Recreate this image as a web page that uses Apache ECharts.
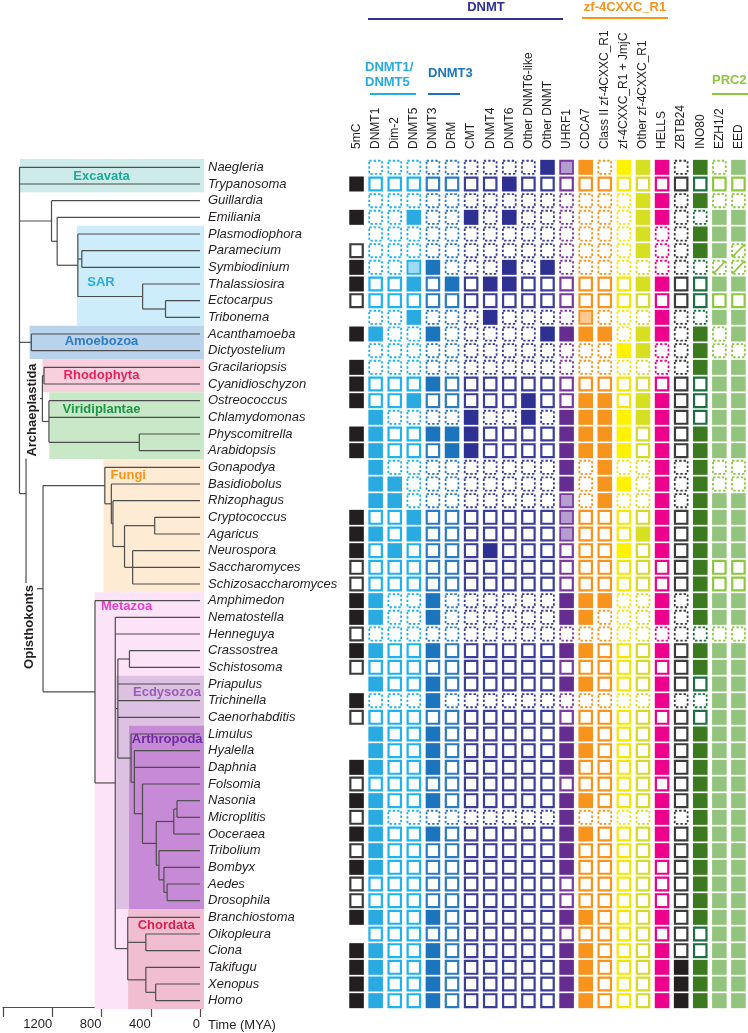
<!DOCTYPE html>
<html><head><meta charset="utf-8">
<script src="https://cdn.jsdelivr.net/npm/echarts@6/dist/echarts.min.js"></script>
<style>html,body{margin:0;padding:0;background:#fff}#c{width:748px;height:1033px}</style>
</head><body><div id="c"></div>
<script>
// ---------------- DATA ----------------
const species = ['Naegleria','Trypanosoma','Guillardia','Emiliania','Plasmodiophora','Paramecium','Symbiodinium','Thalassiosira','Ectocarpus','Tribonema','Acanthamoeba','Dictyostelium','Gracilariopsis','Cyanidioschyzon','Ostreococcus','Chlamydomonas','Physcomitrella','Arabidopsis','Gonapodya','Basidiobolus','Rhizophagus','Cryptococcus','Agaricus','Neurospora','Saccharomyces','Schizosaccharomyces','Amphimedon','Nematostella','Henneguya','Crassostrea','Schistosoma','Priapulus','Trichinella','Caenorhabditis','Limulus','Hyalella','Daphnia','Folsomia','Nasonia','Microplitis','Ooceraea','Tribolium','Bombyx','Aedes','Drosophila','Branchiostoma','Oikopleura','Ciona','Takifugu','Xenopus','Homo'];

const columns = ['5mC','DNMT1','Dim-2','DNMT5','DNMT3','DRM','CMT','DNMT4','DNMT6','Other DNMT6-like','Other DNMT','UHRF1','CDCA7','Class II zf-4CXXC_R1','zf-4CXXC_R1 + JmjC','Other zf-4CXXC_R1','HELLS','ZBTB24','INO80','EZH1/2','EED'];

// F = present (filled), L = partial (light fill), O = absent (open box),
// D = absent / incomplete data (dashed), X = slashed, . = no data
const presence = [
  '.DDDDDDDDDFLFDFFFDFDF','FOOOOOOOFOOOOOOOOOOOO','.DDDDDDDDDDDDDDFFDFDD','FDDFDDFDFDDDDDDFFDDFF',
  '.DDDDDDDDDDDDDDFDDFFF','ODDDDDDDDDDDDDDFDDFFX','FDDLFDDDFDFDDDDDDDDXX','FOOFOFOFFOOOOOOFFOOFF',
  'OOOOOOOOOOOOOOOOOOOOO','.DDFDDDFDDDDLDDDFDDFF','FFDDFDDDDDFFFFDFFDFDF','.DDDDDDDDDDDDDFFDDFDD',
  'FDDDDDDDDDDDDDDDDDFFF','FOOOFOOOOOOOOOOOOOOFF','FOOFOOOOOFOOFFOFFOOFF','.FDDDDFDDFDFFFFFFOOFF',
  'FFOOFFFOOOOFFFFOFOFFF','FFOOOFFOOOOFFFFOFOFFF','.FDDDDDDDDDFDFDDFDFDD','.FFDDDDDDDDFDFFDFDFDD',
  '.FFDDDDDDDDLDFDDFDFFF','FOOFOOOOOOOLOOOOFOFFF','FFOFOOOOOOOLOOOFFOFFF','FOFOOOOFOOOOOOFOFOFFF',
  'OOOOOOOOOOOOOOOOOOFOO','OOOOOOOOOOOOOOOOOOFOO','FFDDFDDDDDDFFFDDFDFFF','FFDDFDDDDDDFFDDDFDFFF',
  'ODDDDDDDDDDDDDDDDDDDD','FFOOFOOOOOOFFOOOFOFFF','OOOOOOOOOOOOOOOOOOFFF','.FOOFOOOOOOFFOOOFOOFF',
  'FDDDFDDDDDDDDDDDFDDFF','OOOOOOOOOOOOOOOOOOOFF','.FOOFOOOOOOFFOOOFOFFF','.FOOFOOOOOOFFOOOFOFFF',
  'FFOOFOOOOOOFOOOOFOFFF','OOOOOOOOOOOOOOOOOOFFF','FFOOFOOOOOOFFOOOFOFFF','OFDDDDDDDDDFDDDDFDFFF',
  'FFOOFOOOOOOFFOOOFOFFF','OFOOOOOOOOOFOOOOFOFFF','FFOOOOOOOOOFOOOOOOFFF','OOOOOOOOOOOOOOOOOOFFF',
  'OOOOOOOOOOOOOOOOOOFFF','FFOOFOOOOOOFFOOOFOFFF','.OOOOOOOOOOOOOOOOOOFF','FFOOFOOOOOOFFOOOFOOFF',
  'FFOOFOOOOOOFFOOOFFFFF','FFOOFOOOOOOFFOOOFFFFF','FFOOFOOOOOOFFOOOFFFFF'
];

// Tree: [node age (MYA), children...]; leaves are species names
const tree = [1466, 'Naegleria', 'Trypanosoma',
  [1206, 'Guillardia', [1160, 'Emiliania', [992, 'Plasmodiophora', [960, 'Paramecium', 'Symbiodinium'], [466, 'Thalassiosira', [280, 'Ectocarpus', 'Tribonema']]]]],
  [1370, 'Acanthamoeba', 'Dictyostelium'],
  [1413,
    [1280, [1267, 'Gracilariopsis', 'Cyanidioschyzon'], [1227, 'Ostreococcus', 'Chlamydomonas', [493, 'Physcomitrella', 'Arabidopsis']]],
    [1275,
      [773, 'Gonapodya', [720, 'Basidiobolus', [707, 'Rhizophagus', [613, [368, 'Cryptococcus', 'Agaricus'], [547, 'Neurospora', 'Saccharomyces', 'Schizosaccharomyces']]]]],
      [853, 'Amphimedon', [688, 'Nematostella', 'Henneguya',
        [667, [573, 'Crassostrea', 'Schistosoma'], 'Priapulus', 'Trichinella', 'Caenorhabditis',
          [560, 'Limulus', [533, 'Hyalella', 'Daphnia', [467, 'Folsomia', [355, [213, [187, 'Nasonia', 'Microplitis'], 'Ooceraea'], [333, 'Tribolium', [293, 'Bombyx', [267, 'Aedes', 'Drosophila']]]]]]]],
        [587, 'Branchiostoma', [440, 'Oikopleura', 'Ciona'], [440, 'Takifugu', [360, 'Xenopus', 'Homo']]]]]]]];

// Clades: name, first species, last species, crown age of shaded box (MYA)
const cladeNames = ['Excavata','SAR','Amoebozoa','Rhodophyta','Viridiplantae','Fungi','Metazoa','Ecdysozoa','Arthropoda','Chordata'];
const cladeFirst = ['Naegleria','Plasmodiophora','Acanthamoeba','Gracilariopsis','Ostreococcus','Gonapodya','Amphimedon','Priapulus','Limulus','Branchiostoma'];
const cladeLast  = ['Trypanosoma','Tribonema','Dictyostelium','Cyanidioschyzon','Arabidopsis','Schizosaccharomyces','Homo','Drosophila','Drosophila','Homo'];
const cladeAge   = [1464, 1000, 1384, 1280, 1224, 784, 856, 680, 576, 584];

const timeTicks = [0, 400, 800, 1200, 1600];

// ---------------- STYLE / LAYOUT ----------------
const FF = '"Liberation Sans", Arial, Helvetica, sans-serif';
const cladeBg  = ['#cdebe8','#ccedf9','#b9d3ec','#f8d0dd','#c9e8c7','#fdebd3','#fde3f7','#dcc1e3','#c78ad7','#f1bed1'];
const cladeTxt = ['#1fa998','#29abe2','#2f7cc1','#e4245e','#1b9548','#f7941d','#e03fcf','#9a5db5','#6e2b9c','#d71f4f'];
const cladeLabelAt = [[800,0.52,'center'],[804,2.92,'center'],[800,0.42,'center'],[800,0.5,'center'],[800,0.5,'center'],
                      [726,0.5,'left'],[805,0.36,'left'],[544,0.5,'left'],[554,0.35,'left'],[506,0.5,'left']];
const BOX_RIGHT_AGE = -32;

const FILL = ['#231f20','#29abe2','#29abe2','#29abe2','#1c75bc','#1c75bc','#2e3192','#2e3192','#2e3192','#2e3192','#2e3192','#662d91','#f7941d','#f7941d','#fff200','#d7df23','#ec008c','#231f20','#3b7a1f','#93c47d','#93c47d'];
const STROKE = ['#3b3b3b','#1fb3ee','#1fb3ee','#1fb3ee','#2a7bc1','#2a7bc1','#3a3e9a','#3a3e9a','#3a3e9a','#3a3e9a','#3a3e9a','#7a3a9e','#f7941d','#f7941d','#f5e800','#d2da2a','#ec008c','#3b3b3b','#1c6e45','#8dc63f','#8dc63f'];
const LIGHT = {3:'#9fd9f4', 11:'#b49dcf', 12:'#fcc98e'};

// ---------------- BUILD ----------------
const segs = [];
function layout(node) {
  if (typeof node === 'string') return {y: species.indexOf(node), t: 0};
  const age = node[0];
  const kids = node.slice(1).map(layout);
  const y0 = kids[0].y, y1 = kids[kids.length - 1].y;
  kids.forEach(k => segs.push([age, k.y, k.t, k.y]));
  segs.push([age, y0, age, y1]);
  return {y: (y0 + y1) / 2, t: age};
}
layout(tree);

const cells = [];
presence.forEach((row, r) => row.split('').forEach((code, c) => { if (code !== '.') cells.push([c, r, code]); }));

const boxData = cladeNames.map((n, i) => [cladeAge[i], species.indexOf(cladeFirst[i]) - 0.5, BOX_RIGHT_AGE, species.indexOf(cladeLast[i]) + 0.5]);

function renderSeg(params, api) {
  const a = api.coord([api.value(0), api.value(1)]);
  const b = api.coord([api.value(2), api.value(3)]);
  return {type: 'line', shape: {x1: a[0], y1: a[1], x2: b[0], y2: b[1]}, style: {stroke: '#4d4d4d', lineWidth: 1.2}};
}
function renderBox(params, api) {
  const a = api.coord([api.value(0), api.value(1)]);
  const b = api.coord([api.value(2), api.value(3)]);
  return {type: 'rect', shape: {x: a[0], y: a[1], width: b[0] - a[0], height: b[1] - a[1]}, style: {fill: cladeBg[params.dataIndex]}};
}
function renderCladeLabel(params, api) {
  const i = params.dataIndex, L = cladeLabelAt[i];
  const p = api.coord([L[0], species.indexOf(cladeFirst[i]) + L[1]]);
  return {type: 'text', x: p[0], y: p[1], style: {text: cladeNames[i], fill: cladeTxt[i], font: 'bold 13px ' + FF, align: L[2], verticalAlign: 'middle'}};
}
function renderCell(params, api) {
  const d = cells[params.dataIndex];
  const c = d[0], code = d[2];
  const p = api.coord([c, d[1]]);
  const W = 14.6, H = 15;
  const x = p[0] - W / 2, y = p[1] - H / 2;
  const stroke = STROKE[c];
  if (code === 'F') return {type: 'rect', shape: {x, y, width: W, height: H}, style: {fill: FILL[c]}};
  if (code === 'O') return {type: 'rect', shape: {x: x + 1.1, y: y + 1.1, width: W - 2.2, height: H - 2.2}, style: {fill: '#fff', stroke, lineWidth: 2.2}};
  if (code === 'L') return {type: 'rect', shape: {x: x + 0.9, y: y + 0.9, width: W - 1.8, height: H - 1.8}, style: {fill: LIGHT[c], stroke, lineWidth: 1.8}};
  const dashed = {type: 'rect', shape: {x: x + 0.9, y: y + 0.9, width: W - 1.8, height: H - 1.8}, style: {fill: 'none', stroke, lineWidth: 1.8, lineDash: [2.4, 2]}};
  if (code === 'X') return {type: 'group', children: [dashed, {type: 'line', shape: {x1: x + 1, y1: y + H - 1, x2: x + W - 1, y2: y + 1}, style: {stroke, lineWidth: 1.6}}]};
  return dashed;
}

function gtext(text, x, y, color, align, rot, font, bg) {
  const st = {text, fill: color, font: font || ('bold 13px ' + FF), align: align || 'center', verticalAlign: 'middle'};
  if (bg) { st.backgroundColor = '#fff'; st.padding = [1, 2]; }
  return {type: 'text', x, y, z: 10, rotation: rot || 0, style: st};
}
function gline(x1, x2, y, color) {
  return {type: 'line', z: 10, shape: {x1, y1: y, x2, y2: y}, style: {stroke: color, lineWidth: 2}};
}

const chart = echarts.init(document.getElementById('c'), null, {renderer: 'canvas'});
chart.setOption({
  animation: false,
  backgroundColor: '#fff',
  grid: [
    {left: 0, top: 159, width: 200, height: 850},
    {left: 347, top: 159, width: 403, height: 850}
  ],
  xAxis: [
    {gridIndex: 0, type: 'value', inverse: true, min: 0, max: 1600, interval: 400, offset: -2,
     axisLine: {show: true, onZero: false, lineStyle: {color: '#4d4d4d', width: 1.2}},
     axisTick: {show: true, length: 10, lineStyle: {color: '#4d4d4d', width: 1.2}},
     axisLabel: {show: true, margin: 11, fontSize: 13, color: '#231f20', fontFamily: FF, align: 'right',
                 formatter: v => (timeTicks.indexOf(v) >= 0 && v < 1600) ? String(v) : ''},
     splitLine: {show: false}},
    {gridIndex: 1, type: 'category', data: columns, position: 'top',
     axisLine: {show: false}, axisTick: {show: false}, splitLine: {show: false}, axisLabel: {show: false}}
  ],
  yAxis: [
    {gridIndex: 0, type: 'category', data: species, inverse: true, position: 'right',
     axisLine: {show: false}, axisTick: {show: false}, splitLine: {show: false},
     axisLabel: {interval: 0, margin: 8, fontSize: 13, fontStyle: 'italic', color: '#231f20', fontFamily: FF, align: 'left'}},
    {gridIndex: 0, type: 'value', min: -0.5, max: 50.5, inverse: true, show: false},
    {gridIndex: 1, type: 'category', data: species, inverse: true, show: false}
  ],
  series: [
    {type: 'custom', xAxisIndex: 0, yAxisIndex: 1, z: 1, renderItem: renderBox, data: boxData, encode: {x: [0, 2], y: [1, 3]}, silent: true},
    {type: 'custom', xAxisIndex: 0, yAxisIndex: 1, z: 2, renderItem: renderSeg, data: segs, encode: {x: [0, 2], y: [1, 3]}, silent: true},
    {type: 'custom', xAxisIndex: 0, yAxisIndex: 1, z: 3, renderItem: renderCladeLabel, data: boxData, encode: {x: [0, 2], y: [1, 3]}, silent: true},
    {type: 'custom', xAxisIndex: 1, yAxisIndex: 2, z: 2, renderItem: renderCell, data: cells.map(d => [d[0], d[1]]), silent: true}
  ]
});

// column header labels placed through the heatmap's own category axis
const headTop = chart.convertToPixel({gridIndex: 1}, [0, 0])[1] - 8.33 - 10;
const colLabels = columns.map((name, i) => {
  const x = chart.convertToPixel({xAxisIndex: 1}, i);
  return gtext(name, x, headTop, '#231f20', 'left', Math.PI / 2, '12px ' + FF);
});

chart.setOption({
  graphic: colLabels.concat([
    gtext('DNMT', 486, 7, '#2e3192'), gline(368, 563, 19, '#2e3192'),
    gtext('zf-4CXXC_R1', 625, 7, '#f7941d'), gline(582, 668, 18, '#f7941d'),
    gtext('DNMT1/', 365, 67, '#29abe2', 'left'), gtext('DNMT5', 365, 82, '#29abe2', 'left'), gline(370, 416, 94, '#29abe2'),
    gtext('DNMT3', 428, 73, '#1c75bc', 'left'), gline(428, 460, 94, '#1c75bc'),
    gtext('PRC2', 712, 80, '#8dc63f', 'left'), gline(712, 748, 94, '#8dc63f'),
    gtext('Archaeplastida', 32.5, 410, '#231f20', 'center', Math.PI / 2, null, true),
    gtext('Opisthokonts', 29.5, 627, '#231f20', 'center', Math.PI / 2, null, true),
    gtext('Time (MYA)', 208, 1025, '#231f20', 'left', 0, '13px ' + FF)
  ])
});
</script>
</body></html>
